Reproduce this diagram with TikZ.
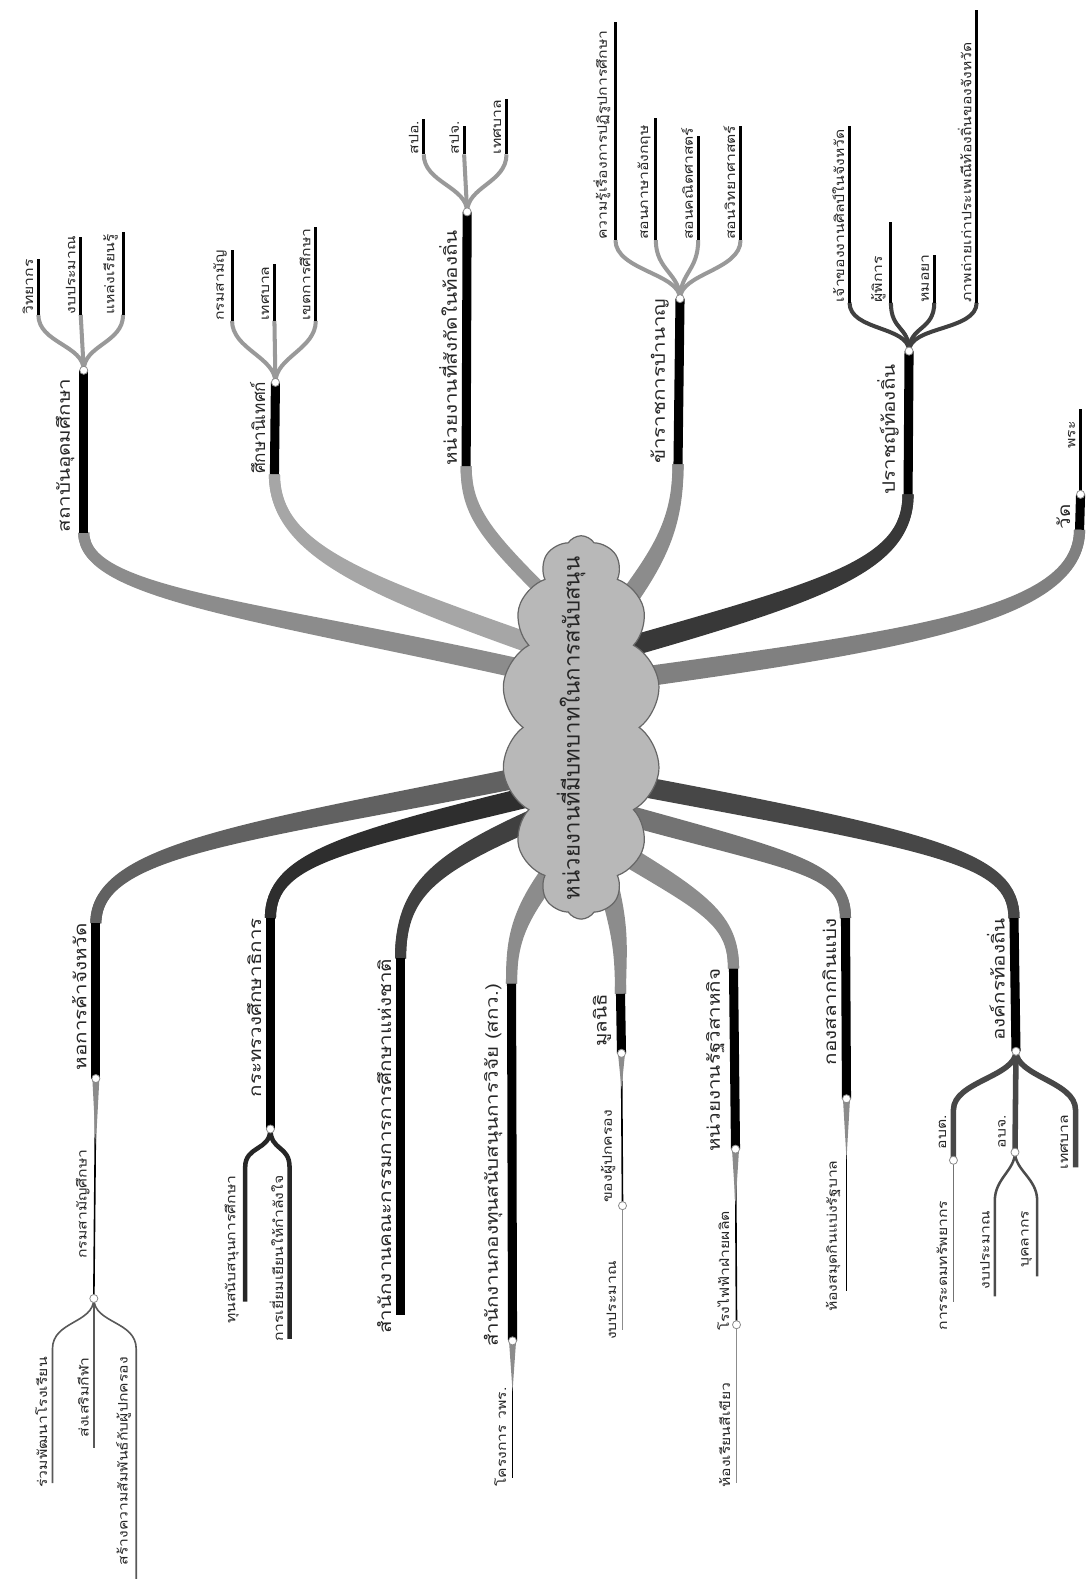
\documentclass[tikz,border=0pt]{standalone}
\usepackage{fontspec}
\newfontfamily\thaifont[Script=Thai]{Loma}
\newfontfamily\thaiwide[Script=Thai,FakeStretch=1.2]{Loma}
\usetikzlibrary{shapes.symbols}

\begin{document}
\begin{tikzpicture}[x=1pt,y=-1pt,
  trunk/.style={line width=11pt},
  bar/.style={line width=9pt,black},
  twig/.style={line width=4pt,black!40},
  leaf/.style={line width=3pt,black},
  wire/.style={line width=1.6pt,black},
  knot/.style={circle,fill=white,draw=black!45,line width=0.8pt,inner sep=0pt,minimum size=8pt},
  nameup/.style={rotate=90,anchor=south west,inner sep=0pt,text=black!85,font=\thaiwide\fontsize{17}{17}\selectfont},
  namedown/.style={rotate=90,anchor=south east,inner sep=0pt,text=black!85,font=\thaiwide\fontsize{17}{17}\selectfont},
  tipup/.style={rotate=90,anchor=south west,inner sep=0pt,text=black!85,font=\thaiwide\fontsize{13}{13}\selectfont},
  tipdown/.style={rotate=90,anchor=south east,inner sep=0pt,text=black!85,font=\thaiwide\fontsize{13}{13}\selectfont}]

\useasboundingbox (0,0) rectangle (1082,1568);

% Points d'attache dans le nuage
\coordinate (s1) at (545,665);
\coordinate (s2) at (545,640);
\coordinate (s3) at (550,600);
\coordinate (s4) at (605,610);
\coordinate (s5) at (610,640);
\coordinate (s6) at (610,670);
\coordinate (s7) at (545,760);
\coordinate (s8) at (545,780);
\coordinate (s9) at (545,800);
\coordinate (s10) at (560,840);
\coordinate (s11) at (590,850);
\coordinate (s12) at (600,830);
\coordinate (s13) at (610,800);
\coordinate (s14) at (610,770);

% Fins des troncs
\coordinate (e1) at (83,528);
\coordinate (e2) at (272,470);
\coordinate (e3) at (462,462);
\coordinate (e4) at (672,460);
\coordinate (e5) at (900,490);
\coordinate (e6) at (1070,525);
\coordinate (e7) at (95,915);
\coordinate (e8) at (268,910);
\coordinate (e9) at (397,950);
\coordinate (e10) at (507,975);
\coordinate (e11) at (615,985);
\coordinate (e12) at (727,960);
\coordinate (e13) at (838,910);
\coordinate (e14) at (1005,910);

% Noeuds
\coordinate (k1) at (83,367);
\coordinate (k2) at (273,379);
\coordinate (k3) at (463,210);
\coordinate (k4) at (674,296);
\coordinate (k5) at (901,348);
\coordinate (k6) at (1071,490);
\coordinate (k7) at (95,1069);
\coordinate (k7b) at (93,1287);
\coordinate (k8) at (268,1119);
\coordinate (k10) at (508,1329);
\coordinate (k11) at (616,1044);
\coordinate (k11b) at (617,1195);
\coordinate (k12) at (729,1139);
\coordinate (k12b) at (730,1313);
\coordinate (k13) at (839,1089);
\coordinate (k14) at (1007,1042);
\coordinate (k14a) at (945,1150);
\coordinate (k14b) at (1006,1142);

% Troncs (deux traits pour l'effet effile)
\draw[trunk,black!45] (s1) .. controls (260,600) and (83,590) .. (e1);
\draw[trunk,black!45] ([shift={(0,9)}]s1) .. controls (260,609) and (83,590) .. (e1);
\draw[trunk,black!35] (s2) .. controls (360,575) and (272,545) .. (e2);
\draw[trunk,black!35] ([shift={(0,9)}]s2) .. controls (360,584) and (272,545) .. (e2);
\draw[trunk,black!40] (s3) .. controls (480,530) and (462,510) .. (e3);
\draw[trunk,black!40] ([shift={(8,5)}]s3) .. controls (488,535) and (462,510) .. (e3);
\draw[trunk,black!45] (s4) .. controls (650,550) and (672,520) .. (e4);
\draw[trunk,black!45] ([shift={(7,5)}]s4) .. controls (657,555) and (672,520) .. (e4);
\draw[trunk,black!78] (s5) .. controls (820,580) and (900,560) .. (e5);
\draw[trunk,black!78] ([shift={(2,9)}]s5) .. controls (822,589) and (900,560) .. (e5);
\draw[trunk,black!50] (s6) .. controls (900,630) and (1070,610) .. (e6);
\draw[trunk,black!50] ([shift={(1,9)}]s6) .. controls (901,639) and (1070,610) .. (e6);
\draw[trunk,black!62] (s7) .. controls (250,820) and (95,840) .. (e7);
\draw[trunk,black!62] ([shift={(2,9)}]s7) .. controls (252,829) and (95,840) .. (e7);
\draw[trunk,black!82] (s8) .. controls (340,830) and (268,850) .. (e8);
\draw[trunk,black!82] ([shift={(2,9)}]s8) .. controls (342,839) and (268,850) .. (e8);
\draw[trunk,black!75] (s9) .. controls (430,850) and (397,880) .. (e9);
\draw[trunk,black!75] ([shift={(4,8)}]s9) .. controls (434,858) and (397,880) .. (e9);
\draw[trunk,black!45] (s10) .. controls (510,900) and (507,930) .. (e10);
\draw[trunk,black!45] ([shift={(7,6)}]s10) .. controls (517,906) and (507,930) .. (e10);
\draw[trunk,black!45] (s11) .. controls (612,920) and (615,940) .. (e11);
\draw[trunk,black!45] ([shift={(9,-3)}]s11) .. controls (621,917) and (615,940) .. (e11);
\draw[trunk,black!45] (s12) .. controls (700,890) and (727,910) .. (e12);
\draw[trunk,black!45] ([shift={(-5,8)}]s12) .. controls (695,898) and (727,910) .. (e12);
\draw[trunk,black!55] (s13) .. controls (790,850) and (838,860) .. (e13);
\draw[trunk,black!55] ([shift={(-2,9)}]s13) .. controls (788,859) and (838,860) .. (e13);
\draw[trunk,black!72] (s14) .. controls (930,830) and (1005,850) .. (e14);
\draw[trunk,black!72] ([shift={(-2,9)}]s14) .. controls (928,839) and (1005,850) .. (e14);

% Barres
\draw[bar] (e1) -- (k1);
\draw[bar] (e2) -- (k2);
\draw[bar] (e3) -- (k3);
\draw[bar] (e4) -- (k4);
\draw[bar] (e5) -- (k5);
\draw[bar] (e6) -- (k6);
\draw[bar] (e7) -- (k7);
\draw[bar] (e8) -- (k8);
\draw[bar] (e9) -- (397,1303) coordinate (z9);
\draw[bar] (e10) -- (k10);
\draw[bar] (e11) -- (k11);
\draw[bar] (e12) -- (k12);
\draw[bar] (e13) -- (k13);
\draw[bar] (e14) -- (k14);

% Nuage
\node[cloud, cloud puffs=14, cloud puff arc=115, cloud ignores aspect,
  minimum width=158pt, minimum height=380pt,
  draw=black!60, fill=black!28, line width=1.2pt] (hub) at (576,721) {};
\node[rotate=90,inner sep=0pt,text=black!85,
  font=\thaifont\fontsize{22}{22}\selectfont] (title) at (566,722)
  {หน่วยงานที่มีบทบาทในการสนับสนุน};

% Branches du haut
\draw[twig] (k1) .. controls +(0,-25) and +(0,28) .. (38,312) coordinate (l1a);
\draw[twig] (k1) -- (80,312) coordinate (l1b);
\draw[twig] (k1) .. controls +(0,-25) and +(0,28) .. (122,312) coordinate (l1c);
\draw[leaf] (l1a) -- ++(0,-55);
\draw[leaf] (l1b) -- ++(0,-77);
\draw[leaf] (l1c) -- ++(0,-82);

\draw[twig] (k2) .. controls +(0,-25) and +(0,28) .. (230,318) coordinate (l2a);
\draw[twig] (k2) -- (272,318) coordinate (l2b);
\draw[twig] (k2) .. controls +(0,-25) and +(0,28) .. (313,318) coordinate (l2c);
\draw[leaf] (l2a) -- ++(0,-70);
\draw[leaf] (l2b) -- ++(0,-56);
\draw[leaf] (l2c) -- ++(0,-93);

\draw[twig] (k3) .. controls +(0,-25) and +(0,28) .. (420,153) coordinate (l3a);
\draw[twig] (k3) -- (460,153) coordinate (l3b);
\draw[twig] (k3) .. controls +(0,-25) and +(0,28) .. (502,153) coordinate (l3c);
\draw[leaf] (l3a) -- ++(0,-35);
\draw[leaf] (l3b) -- ++(0,-28);
\draw[leaf] (l3c) -- ++(0,-55);

\draw[twig] (k4) .. controls +(0,-25) and +(0,30) .. (610,238) coordinate (l4a);
\draw[twig] (k4) .. controls +(0,-25) and +(0,30) .. (650,238) coordinate (l4b);
\draw[twig] (k4) .. controls +(0,-25) and +(0,30) .. (692,238) coordinate (l4c);
\draw[twig] (k4) .. controls +(0,-25) and +(0,30) .. (734,238) coordinate (l4d);
\draw[leaf] (l4a) -- ++(0,-216);
\draw[leaf] (l4b) -- ++(0,-121);
\draw[leaf] (l4c) -- ++(0,-103);
\draw[leaf] (l4d) -- ++(0,-113);

\draw[twig,black!75] (k5) .. controls +(0,-25) and +(0,28) .. (842,300) coordinate (l5a);
\draw[twig,black!75] (k5) .. controls +(0,-25) and +(0,28) .. (883,300) coordinate (l5b);
\draw[twig,black!75] (k5) .. controls +(0,-25) and +(0,28) .. (926,300) coordinate (l5c);
\draw[twig,black!75] (k5) .. controls +(0,-25) and +(0,28) .. (968,300) coordinate (l5d);
\draw[leaf] (l5a) -- ++(0,-175);
\draw[leaf] (l5b) -- ++(0,-80);
\draw[leaf] (l5c) -- ++(0,-47);
\draw[leaf] (l5d) -- ++(0,-290);

\draw[leaf] (k6) -- (1071,405) coordinate (l6a);

% Branches du bas
\draw[wire] (k7) -- (k7b);
\fill[black!45] (k7) ++(-3.5,0) -- ++(7,0) -- ++(-3.5,66) -- cycle;
\draw[wire,black!65] (k7b) .. controls +(0,25) and +(0,-28) .. (52,1337) coordinate (l7a) -- ++(0,133);
\draw[wire,black!65] (k7b) -- (93,1337) coordinate (l7b) -- ++(0,98);
\draw[wire,black!65] (k7b) .. controls +(0,25) and +(0,-28) .. (135,1337) coordinate (l7c) -- ++(0,228);

\draw[line width=4.5pt,black!85] (k8) .. controls +(0,22) and +(0,-22) .. (243,1157) coordinate (l8a) -- ++(0,133);
\draw[line width=4.5pt,black!85] (k8) .. controls +(0,22) and +(0,-22) .. (287,1157) coordinate (l8b) -- ++(0,170);

\draw[wire] (k10) -- (508,1465) coordinate (l10a);
\fill[black!45] (k10) ++(-3.5,0) -- ++(7,0) -- ++(-3.5,50) -- cycle;

\draw[wire] (k11) -- (k11b);
\fill[black!45] (k11) ++(-3.5,0) -- ++(7,0) -- ++(-3.5,35) -- cycle;
\draw[wire,black!45] (k11b) -- (617,1318) coordinate (l11a);

\draw[wire] (k12) -- (k12b);
\fill[black!45] (k12) ++(-3.5,0) -- ++(7,0) -- ++(-3.5,55) -- cycle;
\draw[wire,black!45] (k12b) -- (730,1470) coordinate (l12a);

\draw[wire] (k13) -- (839,1280) coordinate (l13a);
\fill[black!45] (k13) ++(-3.5,0) -- ++(7,0) -- ++(-3.5,60) -- cycle;

\draw[line width=5.5pt,black!72] (k14) .. controls +(0,25) and +(0,-28) .. (945,1100) coordinate (l14a) -- (k14a);
\draw[line width=5.5pt,black!72] (k14) -- (k14b);
\draw[line width=5.5pt,black!72] (k14) .. controls +(0,25) and +(0,-28) .. (1066,1100) coordinate (l14c) -- ++(0,57);
\draw[wire,black!55] (k14a) -- (945,1290);
\draw[line width=2.5pt,black!70] (k14b) .. controls +(0,18) and +(0,-22) .. (986,1190) coordinate (l14d) -- ++(0,95);
\draw[line width=2.5pt,black!70] (k14b) .. controls +(0,18) and +(0,-22) .. (1028,1190) coordinate (l14e) -- ++(0,75);

% Noeuds blancs
\node[knot] (dot1) at (k1) {};
\node[knot] (dot2) at (k2) {};
\node[knot] (dot3) at (k3) {};
\node[knot] (dot4) at (k4) {};
\node[knot] (dot5) at (k5) {};
\node[knot] (dot6) at (k6) {};
\node[knot] (dot7) at (k7) {};
\node[knot] (dot7b) at (k7b) {};
\node[knot] (dot8) at (k8) {};
\node[knot] (dot10) at (k10) {};
\node[knot] (dot11) at (k11) {};
\node[knot] (dot11b) at (k11b) {};
\node[knot] (dot12) at (k12) {};
\node[knot] (dot12b) at (k12b) {};
\node[knot] (dot13) at (k13) {};
\node[knot] (dot14) at (k14) {};
\node[knot] (dot14a) at (k14a) {};
\node[knot] (dot14b) at (k14b) {};

% Légendes du haut
\node[nameup] (n1) at ([xshift=-9pt]e1) {สถาบันอุดมศึกษา};
\node[nameup,font=\thaifont\fontsize{17}{17}\selectfont] (n2) at ([xshift=-9pt]e2) {ศึกษานิเทศก์};
\node[nameup] (n3) at ([xshift=-9pt]e3) {หน่วยงานที่สังกัดในท้องถิ่น};
\node[nameup] (n4) at ([xshift=-9pt]e4) {ข้าราชการบำนาญ};
\node[nameup] (n5) at ([xshift=-9pt]e5) {ปราชญ์ท้องถิ่น};
\node[nameup] (n6) at ([xshift=-9pt]e6) {วัด};

\node[tipup] (t1a) at ([xshift=-5pt]l1a) {วิทยากร};
\node[tipup] (t1b) at ([xshift=-5pt]l1b) {งบประมาณ};
\node[tipup] (t1c) at ([xshift=-5pt]l1c) {แหล่งเรียนรู้};
\node[tipup] (t2a) at ([xshift=-5pt]l2a) {กรมสามัญ};
\node[tipup] (t2b) at ([xshift=-5pt]l2b) {เทศบาล};
\node[tipup] (t2c) at ([xshift=-5pt]l2c) {เขตการศึกษา};
\node[tipup] (t3a) at ([xshift=-5pt]l3a) {สปอ.};
\node[tipup] (t3b) at ([xshift=-5pt]l3b) {สปจ.};
\node[tipup] (t3c) at ([xshift=-5pt]l3c) {เทศบาล};
\node[tipup] (t4a) at ([xshift=-5pt]l4a) {ความรู้เรื่องการปฏิรูปการศึกษา};
\node[tipup] (t4b) at ([xshift=-5pt]l4b) {สอนภาษาอังกฤษ};
\node[tipup] (t4c) at ([xshift=-5pt]l4c) {สอนคณิตศาสตร์};
\node[tipup] (t4d) at ([xshift=-5pt]l4d) {สอนวิทยาศาสตร์};
\node[tipup] (t5a) at ([xshift=-5pt]l5a) {เจ้าของงานศิลป์ในจังหวัด};
\node[tipup] (t5b) at ([xshift=-5pt]l5b) {ผู้พิการ};
\node[tipup] (t5c) at ([xshift=-5pt]l5c) {หมอยา};
\node[tipup] (t5d) at ([xshift=-5pt]l5d) {ภาพถ่ายเก่าประเพณีท้องถิ่นของจังหวัด};
\node[tipup] (t6a) at ([xshift=-5pt,yshift=-40pt]l6a) {พระ};

% Légendes du bas
\node[namedown] (n7) at ([xshift=-9pt]e7) {หอการค้าจังหวัด};
\node[namedown] (n8) at ([xshift=-9pt]e8) {กระทรวงศึกษาธิการ};
\node[namedown] (n9) at ([xshift=-9pt]e9) {สำนักงานคณะกรรมการการศึกษาแห่งชาติ};
\node[namedown] (n10) at ([xshift=-9pt]e10) {สำนักงานกองทุนสนับสนุนการวิจัย (สกว.)};
\node[namedown] (n11) at ([xshift=-9pt]e11) {มูลนิธิ};
\node[namedown] (n12) at ([xshift=-9pt]e12) {หน่วยงานรัฐวิสาหกิจ};
\node[namedown] (n13) at ([xshift=-9pt]e13) {กองสลากกินแบ่ง};
\node[namedown] (n14) at ([xshift=-9pt]e14) {องค์กรท้องถิ่น};

\node[tipdown] (t7) at ([xshift=-6pt,yshift=-70pt]k7) {กรมสามัญศึกษา};
\node[tipdown] (t7a) at ([xshift=-5pt,yshift=-8pt]l7a) {ร่วมพัฒนาโรงเรียน};
\node[tipdown] (t7b) at ([xshift=-5pt,yshift=-8pt]l7b) {ส่งเสริมกีฬา};
\node[tipdown] (t7c) at ([xshift=-5pt,yshift=-8pt]l7c) {สร้างความสัมพันธ์กับผู้ปกครอง};
\node[tipdown] (t8a) at ([xshift=-6pt,yshift=-8pt]l8a) {ทุนสนับสนุนการศึกษา};
\node[tipdown] (t8b) at ([xshift=-6pt,yshift=-8pt]l8b) {การเยี่ยมเยียนให้กำลังใจ};
\node[tipdown] (t10) at ([xshift=-6pt,yshift=-46pt]k10) {โครงการ วพร.};
\node[tipdown] (t11a) at ([xshift=-6pt,yshift=-56pt]k11) {ของผู้ปกครอง};
\node[tipdown] (t11b) at ([xshift=-6pt,yshift=-55pt]k11b) {งบประมาณ};
\node[tipdown] (t12a) at ([xshift=-6pt,yshift=-61pt]k12) {โรงไฟฟ้าฝ่ายผลิต};
\node[tipdown] (t12b) at ([xshift=-6pt,yshift=-57pt]k12b) {ห้องเรียนสีเขียว};
\node[tipdown] (t13) at ([xshift=-6pt,yshift=-61pt]k13) {ห้องสมุดกินแบ่งรัฐบาล};
\node[tipdown] (t14a) at ([xshift=-7pt,yshift=-5pt]l14a) {อบต.};
\node[tipdown] (t14b) at ([xshift=-69pt,yshift=-5pt]l14c) {อบจ.};
\node[tipdown] (t14c) at ([xshift=-7pt,yshift=-5pt]l14c) {เทศบาล};
\node[tipdown] (t14a2) at ([xshift=-6pt,yshift=-40pt]k14a) {การระดมทรัพยากร};
\node[tipdown] (t14d) at ([xshift=-5pt,yshift=-10pt]l14d) {งบประมาณ};
\node[tipdown] (t14e) at ([xshift=-5pt,yshift=-10pt]l14e) {บุคลากร};

\end{tikzpicture}
\end{document}
